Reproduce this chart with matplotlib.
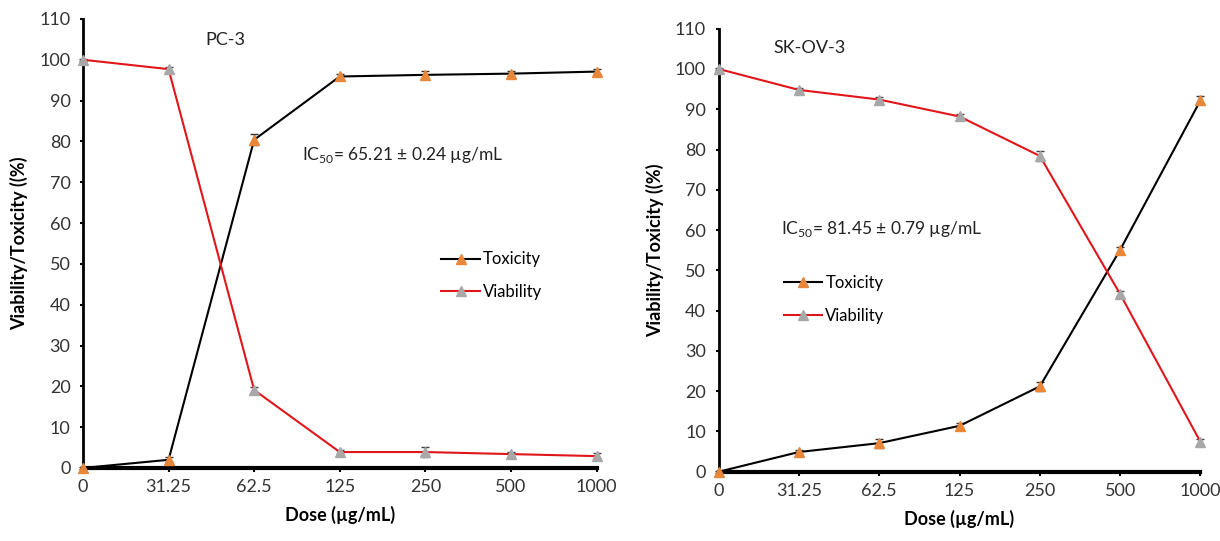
import numpy as np
import matplotlib
matplotlib.use("Agg")
import matplotlib.pyplot as plt
from matplotlib.lines import Line2D

plt.rcParams["font.family"] = ["Lato", "DejaVu Sans"]
plt.rcParams["mathtext.fontset"] = "custom"
plt.rcParams["mathtext.rm"] = "Lato"

doses = ["0", "31.25", "62.5", "125", "250", "500", "1000"]

# PC-3
pc3_toxicity = [0, 2.0, 80.4, 95.9, 96.3, 96.6, 97.1]
pc3_toxicity_err = [0.3, 0.6, 1.3, 0.6, 1.0, 0.6, 0.7]
pc3_viability = [100, 97.7, 19.1, 3.9, 3.9, 3.4, 2.9]
pc3_viability_err = [0.3, 0.6, 0.8, 0.6, 1.2, 0.6, 0.7]

# SK-OV-3
sk_toxicity = [0, 4.9, 7.1, 11.4, 21.2, 55.1, 92.2]
sk_toxicity_err = [0.3, 0.5, 1.1, 0.6, 1.2, 0.8, 1.0]
sk_viability = [100, 94.8, 92.4, 88.2, 78.4, 44.1, 7.4]
sk_viability_err = [0.3, 0.5, 0.7, 0.6, 1.3, 0.8, 0.8]

tox_line = "black"
via_line = "#E0161B"
tox_marker = "#E8873A"
via_marker = "#A8A8A8"


def draw_panel(ax, tox, tox_err, via, via_err, name, ic50, name_pos, ic_pos, leg_pos):
    x = np.arange(len(doses))
    ax.errorbar(x, tox, yerr=tox_err, color=tox_line, lw=1.5, marker="^",
                ms=7.5, mfc=tox_marker, mec=tox_marker, ecolor="#333333",
                elinewidth=1, capsize=3, clip_on=False, zorder=3)
    ax.errorbar(x, via, yerr=via_err, color=via_line, lw=1.5, marker="^",
                ms=7.5, mfc=via_marker, mec=via_marker, ecolor="#444444",
                elinewidth=1, capsize=3, clip_on=False, zorder=3)

    ax.set_xlim(0, len(doses) - 1)
    ax.set_ylim(0, 110)
    ax.set_xticks(x)
    ax.set_xticklabels(doses)
    ax.set_yticks(np.arange(0, 111, 10))
    ax.tick_params(axis="both", labelsize=13, labelcolor="#333333",
                   direction="out", width=1.5)
    ax.tick_params(axis="x", length=3, pad=5)
    ax.tick_params(axis="y", length=2, pad=7)
    for s in ["top", "right"]:
        ax.spines[s].set_visible(False)
    ax.spines["left"].set_linewidth(2)
    ax.spines["bottom"].set_linewidth(3)

    ax.set_xlabel("Dose (\u00b5g/mL)", fontsize=13, fontweight="bold", labelpad=8)
    ax.set_ylabel("Viability/Toxicity ((%)", fontsize=13, fontweight="bold", labelpad=8)

    ax.text(name_pos[0], name_pos[1], name, transform=ax.transAxes,
            fontsize=13, va="center", ha="left", color="#222222")
    ax.text(ic_pos[0], ic_pos[1], ic50, transform=ax.transAxes,
            fontsize=12.5, va="center", ha="left", color="#222222")

    handles = [
        Line2D([], [], color=tox_line, lw=1.5, marker="^", ms=7.5,
               mfc=tox_marker, mec=tox_marker),
        Line2D([], [], color=via_line, lw=1.5, marker="^", ms=7.5,
               mfc=via_marker, mec=via_marker),
    ]
    ax.legend(handles, ["Toxicity", "Viability"], loc="center left",
              bbox_to_anchor=leg_pos, frameon=False, fontsize=12,
              handlelength=2.3, handletextpad=0.2, borderaxespad=0,
              labelspacing=1.0, borderpad=0)


fig = plt.figure(figsize=(12.2, 5.41), dpi=100)
ax1 = fig.add_axes([0.068, 0.135, 0.421, 0.830])
ax2 = fig.add_axes([0.589, 0.128, 0.395, 0.819])

draw_panel(ax1, pc3_toxicity, pc3_toxicity_err, pc3_viability, pc3_viability_err,
           "PC-3", "IC$_{50}$= 65.21 \u00b1 0.24 \u00b5g/mL",
           (0.239, 0.953), (0.426, 0.697), (0.698, 0.428))
draw_panel(ax2, sk_toxicity, sk_toxicity_err, sk_viability, sk_viability_err,
           "SK-OV-3", "IC$_{50}$= 81.45 \u00b1 0.79 \u00b5g/mL",
           (0.114, 0.957), (0.129, 0.549), (0.135, 0.389))

fig.savefig("out.png", dpi=100)
